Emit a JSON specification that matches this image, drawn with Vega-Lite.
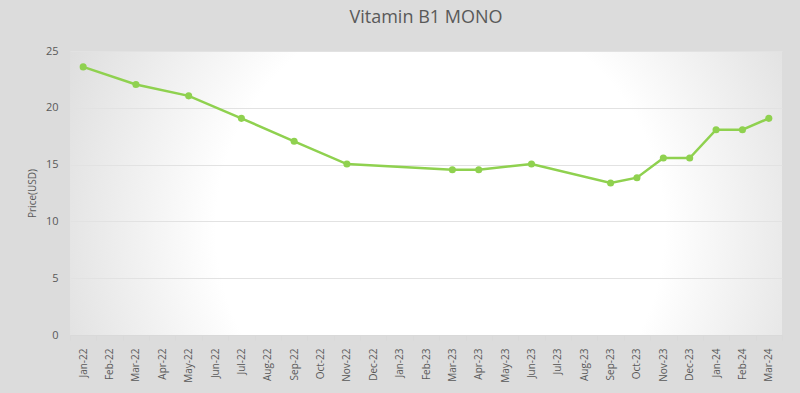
{
  "$schema": "https://vega.github.io/schema/vega-lite/v6.json",
  "width": 712,
  "height": 284,
  "autosize": {"type": "none"},
  "padding": {"left": 70, "top": 51, "right": 18, "bottom": 58},
  "background": "#dcdcdc",
  "title": {
    "text": "Vitamin B1 MONO",
    "fontSize": 18,
    "font": "Open Sans",
    "fontWeight": "normal",
    "color": "#595959",
    "anchor": "middle",
    "offset": 18
  },
  "config": {
    "view": {
      "stroke": null,
      "fill": {
        "gradient": "radial",
        "x1": 0.52, "y1": 0.55, "r1": 0,
        "x2": 0.52, "y2": 0.55, "r2": 0.75,
        "stops": [
          {"offset": 0, "color": "#ffffff"},
          {"offset": 0.42, "color": "#ffffff"},
          {"offset": 1, "color": "#c8c8c8"}
        ]
      }
    },
    "font": "Open Sans"
  },
  "data": {
    "values": [
      {"month": "Jan-22", "price": 23.6},
      {"month": "Mar-22", "price": 22.05},
      {"month": "May-22", "price": 21.05},
      {"month": "Jul-22", "price": 19.07},
      {"month": "Sep-22", "price": 17.05},
      {"month": "Nov-22", "price": 15.05},
      {"month": "Mar-23", "price": 14.55},
      {"month": "Apr-23", "price": 14.55},
      {"month": "Jun-23", "price": 15.05},
      {"month": "Sep-23", "price": 13.38},
      {"month": "Oct-23", "price": 13.85},
      {"month": "Nov-23", "price": 15.58},
      {"month": "Dec-23", "price": 15.58},
      {"month": "Jan-24", "price": 18.07},
      {"month": "Feb-24", "price": 18.07},
      {"month": "Mar-24", "price": 19.07}
    ]
  },
  "encoding": {
    "x": {
      "field": "month",
      "type": "ordinal",
      "bandPosition": 0.5,
      "scale": {
        "type": "band",
        "paddingInner": 0,
        "paddingOuter": 0,
        "domain": ["Jan-22","Feb-22","Mar-22","Apr-22","May-22","Jun-22","Jul-22","Aug-22","Sep-22","Oct-22","Nov-22","Dec-22","Jan-23","Feb-23","Mar-23","Apr-23","May-23","Jun-23","Jul-23","Aug-23","Sep-23","Oct-23","Nov-23","Dec-23","Jan-24","Feb-24","Mar-24"]
      },
      "axis": {
        "title": null,
        "labelAngle": -90,
        "labelAlign": "right",
        "labelBaseline": "middle",
        "labelFontSize": 10,
        "labelColor": "#595959",
        "labelPadding": 8,
        "tickBand": "extent",
        "tickSize": 5,
        "tickColor": "#d9d9d9",
        "domainColor": "#d9d9d9",
        "grid": false
      }
    },
    "y": {
      "field": "price",
      "type": "quantitative",
      "scale": {"domain": [0, 25], "nice": false},
      "axis": {
        "title": "Price(USD)",
        "titleFontSize": 10,
        "titleFontWeight": "normal",
        "titleColor": "#595959",
        "titlePadding": 8,
        "values": [0, 5, 10, 15, 20, 25],
        "labelFontSize": 11,
        "labelColor": "#595959",
        "labelPadding": 12,
        "ticks": false,
        "domain": false,
        "gridColor": "#e2e2e2",
        "gridWidth": 1
      }
    }
  },
  "layer": [
    {"mark": {"type": "line", "color": "#8fd14f", "strokeWidth": 2.5}},
    {"mark": {"type": "point", "filled": true, "color": "#8fd14f", "size": 50, "opacity": 1}}
  ]
}
